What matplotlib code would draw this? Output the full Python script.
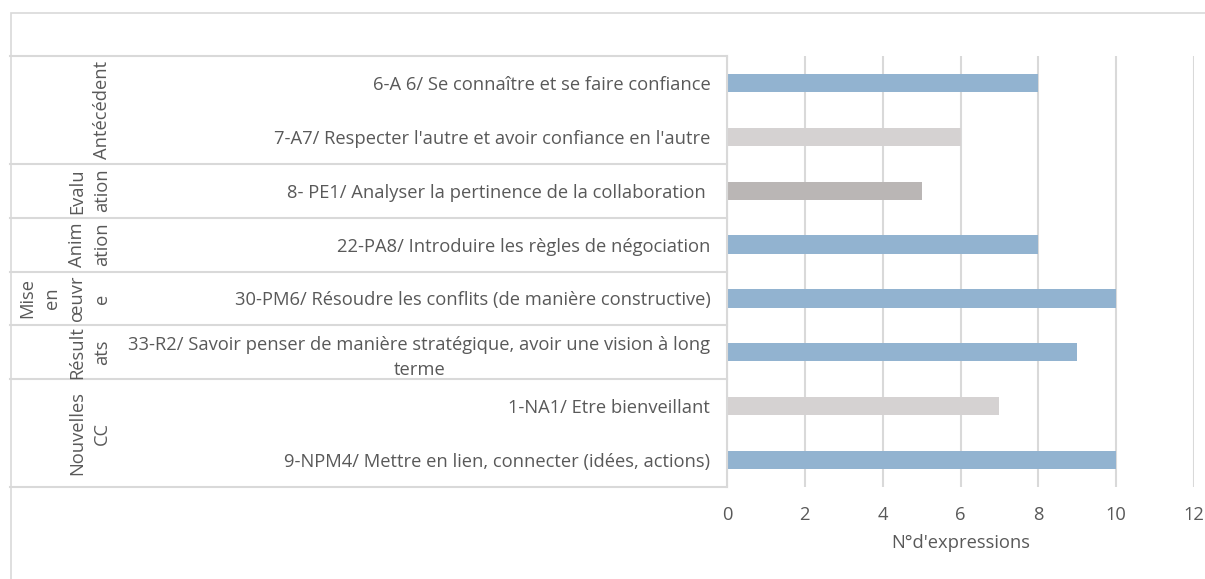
import matplotlib.pyplot as plt
import matplotlib.transforms as mtransforms
from matplotlib.patches import Rectangle

plt.rcParams['font.family'] = ['Open Sans', 'DejaVu Sans']

# données
labels = [
    "6-A 6/ Se connaître et se faire confiance",
    "7-A7/ Respecter l'autre et avoir confiance en l'autre",
    "8- PE1/ Analyser la pertinence de la collaboration ",
    "22-PA8/ Introduire les règles de négociation",
    "30-PM6/ Résoudre les conflits (de manière constructive)",
    "33-R2/ Savoir penser de manière stratégique, avoir une vision à long\nterme",
    "1-NA1/ Etre bienveillant",
    "9-NPM4/ Mettre en lien, connecter (idées, actions)",
]
valeurs = [8, 6, 5, 8, 10, 9, 7, 10]
couleurs = ["#92B3D0", "#D5D2D2", "#BAB6B5", "#92B3D0",
            "#92B3D0", "#92B3D0", "#D5D2D2", "#92B3D0"]
groupes = ["Antécédent", "Evalu\nation", "Anim\nation", "Mise\nen\nœuvr\ne",
           "Résult\nats", "Nouvelles\nCC"]
taille_groupes = [2, 1, 1, 1, 1, 2]
graduations = [0, 2, 4, 6, 8, 10, 12]

W, H = 1205, 579
gris_txt = "#595959"
gris_ligne = "#D9D9D9"
taille = 13.2

fig = plt.figure(figsize=(W / 100, H / 100), dpi=100)
fig.patches.append(Rectangle((10.5 / W, -0.05), 1.1, 1 - 13 / H + 0.05,
                             transform=fig.transFigure, fill=False,
                             edgecolor=gris_ligne, linewidth=1.2))

ax = fig.add_axes([727 / W, 1 - 487 / H, (1194 - 727) / W, (487 - 56) / H])

y = list(range(len(labels)))
ax.barh(y, valeurs, height=0.34, color=couleurs, zorder=3)

ax.set_ylim(len(labels) - 0.5, -0.5)
ax.set_xlim(0, 12)
ax.set_xticks(graduations)
ax.set_yticks(y)
ax.set_yticklabels(labels, multialignment="center", linespacing=1.5)
ax.tick_params(axis="y", length=0, pad=12, labelsize=taille, labelcolor=gris_txt)
ax.tick_params(axis="x", length=0, pad=14, labelsize=taille, labelcolor=gris_txt)
ax.set_xlabel("N°d'expressions", fontsize=taille, color=gris_txt, labelpad=7)

ax.grid(axis="x", color=gris_ligne, linewidth=1.5, zorder=0)
for cote in ["top", "right", "bottom"]:
    ax.spines[cote].set_visible(False)
ax.spines["left"].set_color(gris_ligne)
ax.spines["left"].set_linewidth(1.5)
ax.spines["left"].set_zorder(4)

# axe de catégories à deux niveaux
trans = mtransforms.blended_transform_factory(fig.transFigure, ax.transData)
debut = -0.5
ax.plot([10 / W, 727 / W], [debut, debut], transform=trans, color=gris_ligne,
        linewidth=1.5, clip_on=False)
for nom, n in zip(groupes, taille_groupes):
    fin = debut + n
    ax.plot([10 / W, 727 / W], [fin, fin], transform=trans, color=gris_ligne,
            linewidth=1.5, clip_on=False)
    ax.text(111 / W, (debut + fin) / 2, nom, transform=trans, rotation=90,
            ha="right", va="center", multialignment="center",
            fontsize=taille, color=gris_txt, linespacing=1.5)
    debut = fin

fig.savefig("out.png", dpi=100)
